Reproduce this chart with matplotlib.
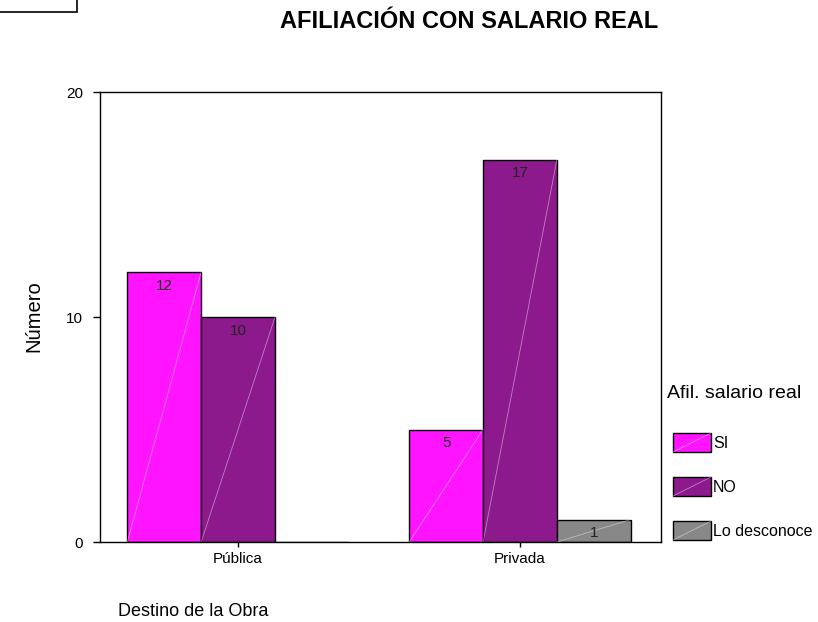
import numpy as np
import matplotlib
matplotlib.use("Agg")
import matplotlib.pyplot as plt
from matplotlib.patches import Rectangle

plt.rcParams['font.family'] = ['Liberation Sans', 'DejaVu Sans']

# data
destinos = ['Pública', 'Privada']
grupos = ['SI', 'NO', 'Lo desconoce']
valores = {
    'SI': [12, 5],
    'NO': [10, 17],
    'Lo desconoce': [0, 1],
}
colores = ['#ff14ff', '#8c1a8c', '#888888']

W, H = 818, 622
fig = plt.figure(figsize=(W / 100, H / 100), dpi=100)
ax = fig.add_axes([0.1222, 0.1286, 0.6858, 0.7234])

x = np.arange(len(destinos))
w = 0.262
for i, g in enumerate(grupos):
    pos = x + (i - 1) * w
    bars = ax.bar(pos, valores[g], width=w, color=colores[i], edgecolor='black',
                  linewidth=1.0, label=g, zorder=2)
    for b, v in zip(bars, valores[g]):
        if v == 0:
            continue
        # diagonal light line inside the bar
        ax.plot([b.get_x(), b.get_x() + b.get_width()], [0, b.get_height()],
                color='white', lw=0.6, alpha=0.45, zorder=3)
        ax.annotate(str(v), (b.get_x() + b.get_width() / 2, b.get_height()),
                    xytext=(0, -5), textcoords='offset points', ha='center',
                    va='top', fontsize=11, color='#222222', zorder=4)

ax.set_xlim(-0.49, 1.5)
ax.set_ylim(0, 20)
ax.set_yticks([0, 10, 20])
ax.set_xticks(x)
ax.set_xticklabels(destinos, fontsize=11)
ax.tick_params(axis='y', labelsize=11, length=5, width=1, pad=7)
ax.tick_params(axis='x', length=3.5, width=1, pad=4)
for s in ax.spines.values():
    s.set_linewidth(1.0)

fig.text(0.041, 0.492, 'Número', fontsize=14.5, rotation=90, ha='center', va='center')
fig.text(0.144, 0.017, 'Destino de la Obra', fontsize=13, ha='left', va='center')
fig.text(0.573, 0.966, 'AFILIACIÓN CON SALARIO REAL', fontsize=17,
         fontweight='bold', ha='center', va='center')

# legend drawn by hand (pixel layout of the original)
fig.text(667 / W, 1 - 393 / H, 'Afil. salario real', fontsize=14, ha='left', va='center')
for i, g in enumerate(grupos):
    top = 433 + 44 * i
    fig.add_artist(Rectangle((673 / W, 1 - (top + 19) / H), 38 / W, 19 / H,
                             transform=fig.transFigure, facecolor=colores[i],
                             edgecolor='black', lw=1.0))
    fig.add_artist(plt.Line2D([673 / W, 711 / W], [1 - (top + 19) / H, 1 - top / H],
                              transform=fig.transFigure, color='white', lw=0.6, alpha=0.45))
    fig.text(713 / W, 1 - (top + 10) / H, g, fontsize=11.5, ha='left', va='center')

# box fragment top-left
fig.add_artist(Rectangle((-0.01, 0.981), 0.104, 0.03, transform=fig.transFigure,
                         fill=False, edgecolor='black', lw=1.2))

fig.savefig('out.png', dpi=100)
